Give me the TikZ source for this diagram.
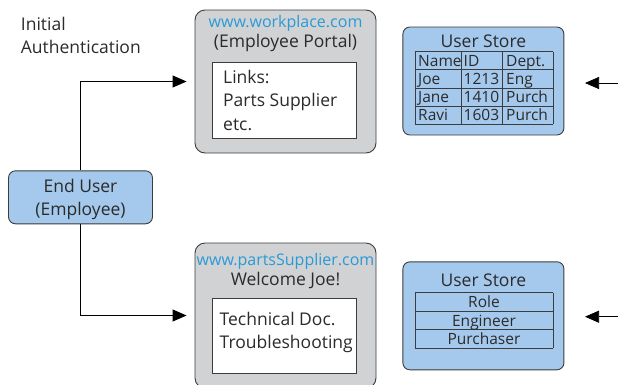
\documentclass[tikz,border=0pt]{standalone}
\usepackage{fontspec}
\setmainfont{Open Sans}
\usetikzlibrary{arrows.meta, positioning}

\definecolor{storeblue}{HTML}{A4C9EC}
\definecolor{portalgray}{HTML}{D1D2D4}
\definecolor{urlblue}{HTML}{2A9AD6}
\definecolor{edgegray}{HTML}{3C3C3C}
\definecolor{inkgray}{HTML}{2B2B2B}

\newcommand{\bodysize}{\fontsize{17.5}{23.4}\selectfont}
\newcommand{\urlsize}{\fontsize{16}{20}\selectfont}
\newcommand{\cellsize}{\fontsize{15.5}{18}\selectfont}

\tikzset{
  userbox/.style={draw=edgegray, fill=storeblue, rounded corners=7pt, line width=0.9pt},
  portalbox/.style={draw=edgegray, fill=portalgray, rounded corners=10pt, line width=0.9pt},
  linkbox/.style={draw=edgegray, fill=white, line width=0.8pt},
  flow/.style={draw=black, line width=0.9pt, -{Triangle[length=14pt,width=12pt]}},
  cell/.style={draw=edgegray, line width=0.8pt},
  txt/.style={inner sep=0pt, text=inkgray},
  url/.style={inner sep=0pt, text=urlblue, font=\urlsize},
}

\begin{document}
\begin{tikzpicture}[x=1pt, y=-1pt, font=\bodysize]
\useasboundingbox (0,0) rectangle (618,384);

\node[txt, anchor=base west] (initA) at (20.7,30.7) {Initial};
\node[txt, anchor=base west] (initB) at (20.7,53.3) {Authentication};

% end user
\node[userbox, minimum width=144pt, minimum height=53pt] (user) at (80.5,197.3) {};
\node[txt, anchor=base] (userA) at (80.5,192.5) {End User};
\node[txt, anchor=base] (userB) at (80.5,215.5) {(Employee)};

% employee portal
\node[portalbox, minimum width=181pt, minimum height=143pt] (portal) at (285.5,81.5) {};
\node[url, anchor=base] (portalurl) at (285.5,27) {www.workplace.com};
\node[txt, anchor=base] (portalname) at (285.5,47.5) {(Employee Portal)};
\node[linkbox, minimum width=144.5pt, minimum height=75.5pt] (links) at (284.5,100.5) {};
\node[txt, anchor=base west] (linkA) at (223,83.3) {Links:};
\node[txt, anchor=base west] (linkB) at (223,106.7) {Parts Supplier};
\node[txt, anchor=base west] (linkC) at (223,130) {etc.};

% parts supplier site
\node[portalbox, minimum width=181pt, minimum height=145pt] (supplier) at (285.5,315.5) {};
\node[url, anchor=base] (supplierurl) at (285.5,265) {www.partsSupplier.com};
\node[txt, anchor=base] (welcome) at (285.5,285.5) {Welcome Joe!};
\node[linkbox, minimum width=144.5pt, minimum height=75pt] (docs) at (284.5,335.8) {};
\node[txt, anchor=base west] (docA) at (219.5,325) {Technical Doc.};
\node[txt, anchor=base west] (docB) at (219.5,348.3) {Troubleshooting};

% login paths
\draw[flow, shorten >=8pt] (user.north) |- (portal.west);
\draw[flow, shorten >=8pt] (user.south) |- (supplier.west);

% user store of the portal
\node[userbox, minimum width=161pt, minimum height=108pt] (storeA) at (483.4,81) {};
\node[txt, anchor=base] (storeAtitle) at (483.4,47) {User Store};
\foreach \y in {51.7,69.8,87.9,106,124}
  \draw[cell] (415,\y) -- (553,\y);
\foreach \x in {415,461.7,502.7,553}
  \draw[cell] (\x,51.7) -- (\x,124);
\begin{scope}[font=\cellsize]
\foreach \n/\i/\d [count=\r] in {Name/ID/Dept., Joe/1213/Eng, Jane/1410/Purch, Ravi/1603/Purch} {
  \node[txt, anchor=base west] (nameA\r) at (418,{51.7+18.08*(\r-1)+15}) {\n};
  \node[txt, anchor=base west] (idA\r) at (463.5,{51.7+18.08*(\r-1)+15}) {\i};
  \node[txt, anchor=base west] (deptA\r) at (506,{51.7+18.08*(\r-1)+15}) {\d};
}
\end{scope}

% user store of the supplier
\node[userbox, minimum width=161pt, minimum height=108pt] (storeB) at (483.4,315.8) {};
\node[txt, anchor=base] (storeBtitle) at (483.4,286.5) {User Store};
\foreach \y in {292.7,311.2,329.7,348}
  \draw[cell] (415,\y) -- (553,\y);
\draw[cell] (415,292.7) -- (415,348);
\draw[cell] (553,292.7) -- (553,348);
\begin{scope}[font=\cellsize]
\foreach \role [count=\r] in {Role, Engineer, Purchaser}
  \node[txt, anchor=base] (roleB\r) at (484,{292.7+18.43*(\r-1)+15}) {\role};
\end{scope}

% lookups coming in from the right
\coordinate (inA) at (618,83);
\coordinate (tipA) at (585,83);
\coordinate (inB) at (618,316.7);
\coordinate (tipB) at (585,316.7);
\draw[flow, line width=0.7pt] (inA) -- (tipA);
\draw[flow, line width=0.7pt] (inB) -- (tipB);
\end{tikzpicture}
\end{document}
